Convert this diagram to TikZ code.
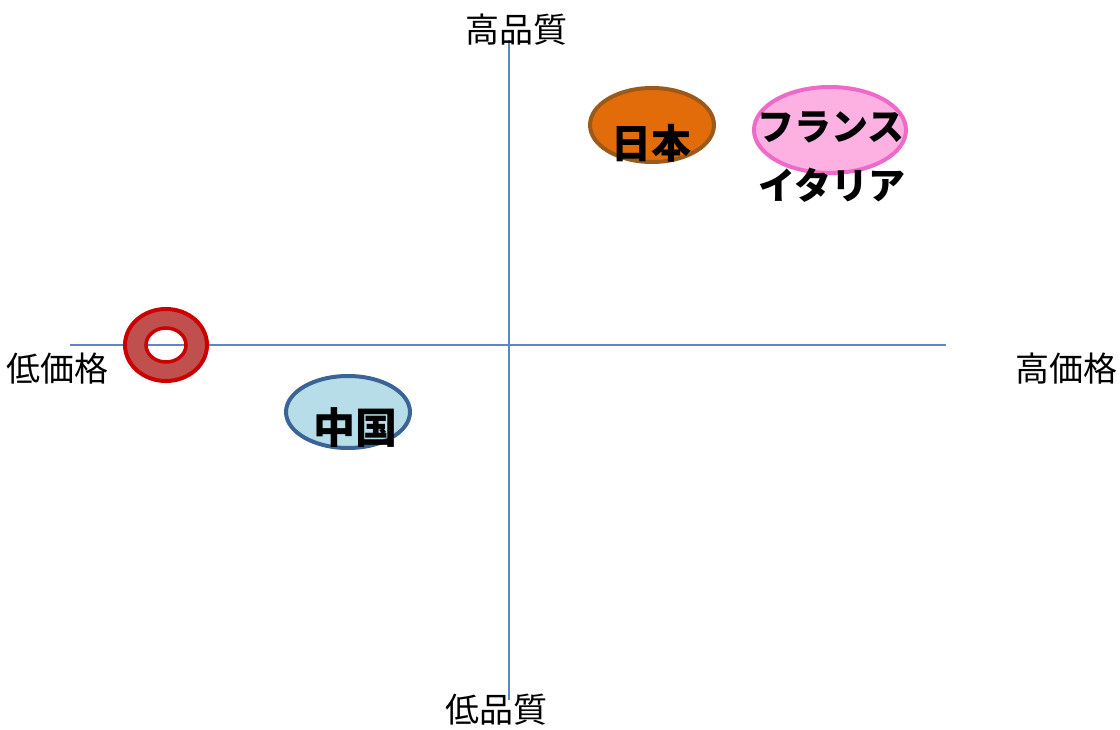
\documentclass[tikz,border=0pt]{standalone}
\usepackage{fontspec}
\setmainfont{Noto Sans CJK JP}
\usetikzlibrary{shapes.geometric}
\definecolor{axisblue}{HTML}{5B87C8}
\definecolor{jpfill}{HTML}{E36C0A}
\definecolor{jpline}{HTML}{9B5A1A}
\definecolor{frfill}{HTML}{FDB0E2}
\definecolor{frline}{HTML}{EE6AC8}
\definecolor{ringfill}{HTML}{C0504D}
\definecolor{ringline}{HTML}{CC0000}
\definecolor{cnfill}{HTML}{B7DDE8}
\definecolor{cnline}{HTML}{3A6496}
\tikzset{
  axis/.style={draw=axisblue, line width=1.1pt},
  axlabel/.style={font=\fontsize{34}{36}\selectfont, inner sep=0pt},
  blob/.style={ellipse, line width=4pt, inner sep=0pt},
  bigtext/.style={font=\fontsize{40}{42}\selectfont\bfseries, inner sep=0pt},
}
\begin{document}
\begin{tikzpicture}[x=1pt,y=-1pt]
\useasboundingbox (0,0) rectangle (1120,730);
% axes
\coordinate (top) at (509,40);
\coordinate (bot) at (509,700);
\coordinate (lft) at (70,345);
\coordinate (rgt) at (946,345);
\draw[axis] (top) -- (bot);
\draw[axis] (lft) -- (rgt);
% axis labels
\node[axlabel] (hq) at (516,30) {高品質};
\node[axlabel] (lq) at (496,710) {低品質};
\node[axlabel] (lp) at (57,369) {低価格};
\node[axlabel] (hp) at (1066,369) {高価格};
% ellipses
\node[blob, draw=jpline, fill=jpfill, minimum width=124pt, minimum height=74pt] (jpe) at (652,125) {};
\node[blob, draw=frline, fill=frfill, minimum width=152pt, minimum height=86pt] (fre) at (830,130) {};
\node[blob, draw=cnline, fill=cnfill, minimum width=124pt, minimum height=72pt] (cne) at (348,412) {};
% ring
\path[fill=ringfill, even odd rule] (166,345) ellipse [x radius=41, y radius=36] (166,345) ellipse [x radius=20, y radius=17];
\draw[ringline, line width=4pt] (166,345) ellipse [x radius=41, y radius=36];
\draw[ringline, line width=3.5pt] (166,345) ellipse [x radius=20, y radius=17];
% texts
\node[bigtext] (jpt) at (651,143) {日本};
\node[bigtext, font=\fontsize{37}{39}\selectfont\bfseries] (frt) at (831,127) {フランス};
\node[bigtext, font=\fontsize{37}{39}\selectfont\bfseries] (itt) at (832,185) {イタリア};
\node[bigtext, font=\fontsize{42}{44}\selectfont\bfseries] (cnt) at (355,428) {中国};
\end{tikzpicture}
\end{document}
